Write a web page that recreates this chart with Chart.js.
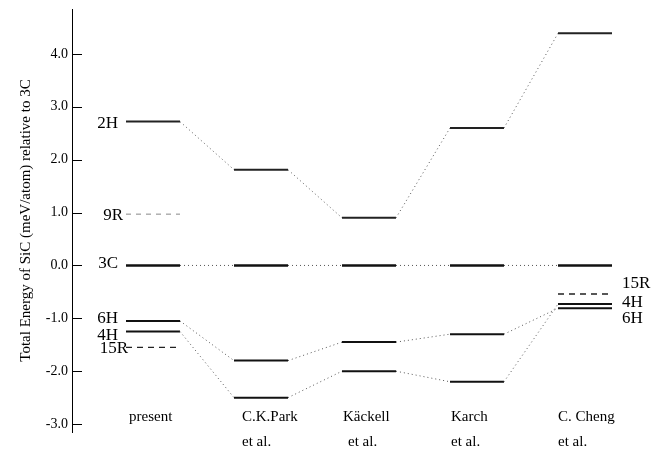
<!DOCTYPE html>
<html>
<head>
<meta charset="utf-8">
<script src="https://cdn.jsdelivr.net/npm/chart.js@4.4.0/dist/chart.umd.min.js"></script>
<style>
html, body { margin: 0; padding: 0; background: #fff; }
#wrap { width: 669px; height: 449px; }
</style>
</head>
<body>
<div id="wrap"><canvas id="levels"></canvas></div>
<script>
// studies (columns), each one a list of text lines
const studies = [['present'], ['C.K.Park', 'et al.'], ['Käckell', 'et al.'], ['Karch', 'et al.'], ['C. Cheng', 'et al.']];

// energies relative to 3C, meV/atom, one value per study
const e2H  = [2.72, 1.81, 0.90, 2.60, 4.39];
const e3C  = [0, 0, 0, 0, 0];
const e6H  = [-1.05, -1.80, -1.45, -1.30, -0.81];
const e4H  = [-1.25, -2.50, -2.00, -2.20, -0.73];
const e9R  = [0.97, null, null, null, null];
const e15R = [-1.55, null, null, null, -0.54];

const yTicks = [-3, -2, -1, 0, 1, 2, 3, 4];

// level names written next to the first and last column
const leftNames  = ['2H', '9R', '3C', '6H', '4H', '15R'];
const rightNames = ['15R', '4H', '6H'];

const series = { '2H': e2H, '3C': e3C, '6H': e6H, '4H': e4H, '9R': e9R, '15R': e15R };

const HALF = 0.25; // half width of a level bar, in column units

// every column gives two points: start and end of its bar
function toPoints(vals) {
  const pts = [];
  vals.forEach((v, i) => {
    pts.push({ x: i - HALF, y: v });
    pts.push({ x: i + HALF, y: v });
  });
  return pts;
}

function levelSet(name, barDash, barColor, barWidth) {
  return {
    label: name,
    data: toPoints(series[name]),
    borderColor: barColor,
    borderWidth: barWidth,
    pointRadius: 0,
    spanGaps: false,
    segment: {
      // even segments are the bars, odd ones join a study to the next
      borderDash: ctx => ctx.p0DataIndex % 2 === 0 ? barDash : [1, 3],
      borderColor: ctx => ctx.p0DataIndex % 2 === 0 ? barColor : '#555',
      borderWidth: ctx => ctx.p0DataIndex % 2 === 0 ? barWidth : 1
    }
  };
}

const labelsPlugin = {
  id: 'labels',
  afterDatasetsDraw(chart) {
    const { ctx, scales: { x, y } } = chart;
    ctx.save();
    ctx.fillStyle = '#000';

    // inward ticks on the energy axis
    ctx.strokeStyle = '#000';
    ctx.lineWidth = 1;
    yTicks.forEach(t => {
      const py = Math.round(y.getPixelForValue(t)) + 0.5;
      ctx.beginPath();
      ctx.moveTo(x.left, py);
      ctx.lineTo(x.left + 10, py);
      ctx.stroke();
    });

    ctx.font = '17px "Liberation Serif"';
    ctx.textBaseline = 'middle';

    const leftNudge = { '2H': [0, 2], '9R': [5, 1], '3C': [0, -2], '6H': [0, -2], '4H': [0, 4], '15R': [10, 1] };
    ctx.textAlign = 'right';
    leftNames.forEach(n => {
      const [dx, dy] = leftNudge[n];
      ctx.fillText(n, x.getPixelForValue(-HALF) - 8 + dx, y.getPixelForValue(series[n][0]) + dy);
    });

    const last = studies.length - 1;
    const rightNudge = { '15R': -10, '4H': -2, '6H': 10 };
    ctx.textAlign = 'left';
    rightNames.forEach(n => {
      ctx.fillText(n, x.getPixelForValue(last + HALF) + 10, y.getPixelForValue(series[n][last]) + rightNudge[n]);
    });

    // study names under the bars
    ctx.font = '15px "Liberation Serif"';
    const nameNudge = [[3], [8, 8], [1, 6], [1, 1], [0, 0]];
    studies.forEach((lines, i) => {
      lines.forEach((txt, k) => {
        ctx.fillText(txt, x.getPixelForValue(i - HALF) + nameNudge[i][k], 417 + k * 25);
      });
    });
    ctx.restore();
  }
};

new Chart(document.getElementById('levels'), {
  type: 'line',
  data: {
    datasets: [
      levelSet('3C', undefined, '#111', 2.5),
      levelSet('2H', undefined, '#222', 2),
      levelSet('6H', undefined, '#111', 2),
      levelSet('4H', undefined, '#111', 2),
      levelSet('9R', [5, 5], '#888', 1),
      levelSet('15R', [6, 5], '#222', 1.3)
    ]
  },
  options: {
    responsive: true,
    maintainAspectRatio: false,
    animation: false,
    layout: { padding: { left: 0, top: 9, right: 3, bottom: 17 } },
    plugins: {
      legend: { display: false },
      tooltip: { enabled: false }
    },
    scales: {
      x: {
        type: 'linear',
        display: false,
        min: -0.75,
        max: 4.75
      },
      y: {
        min: -3.15,
        max: 4.85,
        afterBuildTicks: s => { s.ticks = yTicks.map(v => ({ value: v })); },
        afterFit: s => { s.width = 72; s.paddingTop = 0; s.paddingBottom = 0; },
        border: { display: true, color: '#000', width: 1 },
        grid: { display: false, drawTicks: false },
        ticks: {
          color: '#000',
          padding: 4,
          font: { family: 'Liberation Serif', size: 14 },
          callback: v => v.toFixed(1)
        },
        title: {
          display: true,
          text: 'Total Energy of SiC (meV/atom) relative to 3C',
          color: '#000',
          font: { family: 'Liberation Serif', size: 15 },
          padding: { top: 17, bottom: 0 }
        }
      }
    }
  },
  plugins: [labelsPlugin]
});
</script>
</body>
</html>
